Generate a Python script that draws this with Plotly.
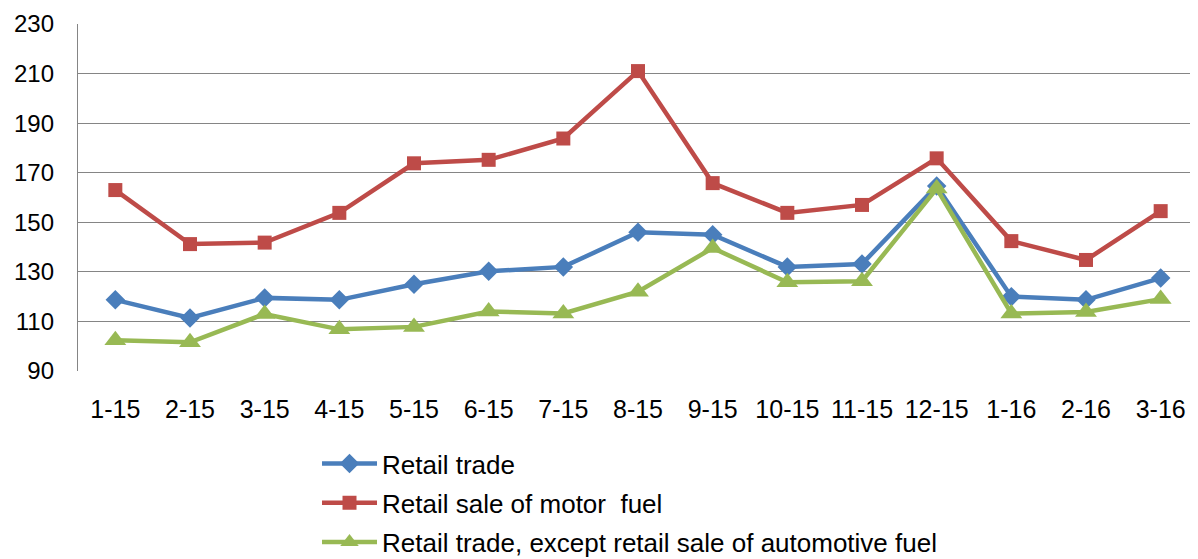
import plotly.graph_objects as go

categories = ["1-15", "2-15", "3-15", "4-15", "5-15", "6-15", "7-15", "8-15",
              "9-15", "10-15", "11-15", "12-15", "1-16", "2-16", "3-16"]
retail_trade = [118.7, 111.4, 119.5, 118.7, 125.0, 130.2, 132.0, 146.0,
                145.0, 132.0, 133.2, 164.6, 120.0, 118.7, 127.5]
motor_fuel = [163.0, 141.2, 141.8, 153.8, 173.8, 175.2, 183.8, 211.0,
              165.8, 153.8, 157.0, 175.8, 142.4, 134.8, 154.5]
except_fuel = [102.4, 101.6, 113.0, 106.8, 107.8, 114.0, 113.2, 122.0,
               139.6, 125.8, 126.2, 163.6, 113.2, 113.8, 119.0]

names = ["Retail trade", "Retail sale of motor  fuel",
         "Retail trade, except retail sale of automotive fuel"]
colors = ["#4A7EBB", "#BE4B48", "#98B954"]
symbols = ["diamond", "square", "triangle-up"]
msizes = [15, 14, 19]
series = [retail_trade, motor_fuel, except_fuel]

fig = go.Figure()
for i, (name, vals) in enumerate(zip(names, series)):
    fig.add_trace(go.Scatter(
        x=list(range(len(categories))), y=vals, name=name,
        mode="lines+markers", legendgroup=f"g{i}",
        line=dict(color=colors[i], width=4.5),
        marker=dict(symbol=symbols[i], size=msizes[i], color=colors[i]),
    ))

# page body adds an 8px offset, so the figure is sized to fit the window
fig.update_layout(
    width=1190, height=551,
    margin=dict(l=70, r=0, t=15.5, b=187.5, autoexpand=False),
    plot_bgcolor="white", paper_bgcolor="white",
    font=dict(family="Liberation Sans, Arial, sans-serif", size=25, color="black"),
    showlegend=True,
    legend=dict(x=0.2134, y=-0.199, xanchor="left", yanchor="top",
                orientation="v", tracegroupgap=2.5, itemwidth=55,
                font=dict(size=26), bgcolor="rgba(0,0,0,0)"),
)
fig.update_xaxes(
    range=[-0.5, 14.5], tickmode="array",
    tickvals=list(range(len(categories))), ticktext=categories,
    showgrid=False, zeroline=False, showline=False,
    ticks="", tickfont=dict(size=25), ticklabelstandoff=21,
)
fig.update_yaxes(
    range=[90, 230], tickmode="array", tickvals=list(range(90, 231, 20)),
    showgrid=True, gridcolor="#858585", gridwidth=1.4,
    zeroline=False, showline=True, linecolor="#858585", linewidth=1.4,
    ticks="", tickfont=dict(size=24), ticklabelstandoff=18,
)

fig.write_html("out.html")
